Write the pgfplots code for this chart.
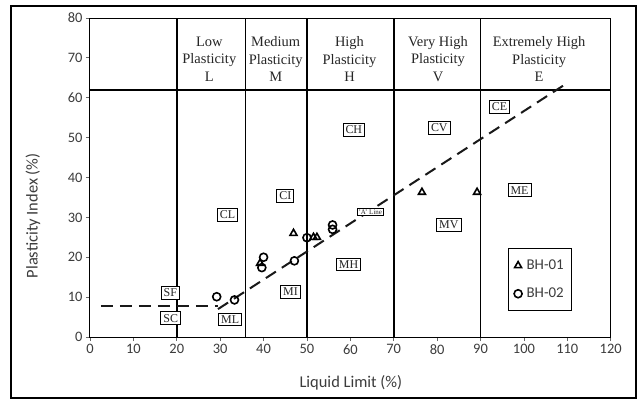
\documentclass[border=0pt]{standalone}
\usepackage{pgfplots}
\pgfplotsset{compat=1.18}
\usepackage{fontspec}
\setmainfont{Liberation Serif}
\newfontfamily\carlito{Carlito}
\definecolor{txtgray}{RGB}{60,60,60}
\begin{document}
\begin{tikzpicture}
\useasboundingbox (-90bp,-64bp) rectangle (550bp,337bp);
\fill[white] (-90bp,-64bp) rectangle (550bp,337bp);
\draw[line width=2bp] (-79bp,-61bp) rectangle (546bp,331bp);
\begin{axis}[
  at={(0,0)}, anchor=south west,
  scale only axis, width=520.7bp, height=319bp,
  xmin=0, xmax=120, ymin=0, ymax=80,
  xtick={0,10,...,120}, ytick={0,10,...,80},
  tick align=outside, xtick pos=bottom, ytick pos=left,
  major tick length=4bp,
  tick style={black!60, line width=0.8bp},
  axis line style={black, line width=1bp},
  /pgf/number format/assume math mode=true,
  ticklabel style={font=\carlito\fontsize{14.5}{14.5}\selectfont, text=txtgray},
  xlabel={Liquid Limit (\%)},
  ylabel={Plasticity Index (\%)},
  xlabel style={at={(axis description cs:0.501,-0.144)}, anchor=center, font=\carlito\fontsize{16.5}{16.5}\selectfont, text=txtgray},
  ylabel style={at={(axis description cs:-0.1095,0.38)}, anchor=center, font=\carlito\fontsize{16.5}{16.5}\selectfont, text=txtgray},
  clip=false,
  legend style={at={(0.802,0.2775)}, anchor=north west, draw=black, line width=1bp,
    font=\carlito\fontsize{15}{15}\selectfont, text=txtgray, row sep=13bp, inner xsep=6bp, inner ysep=9bp},
  legend image post style={line width=0.8bp, mark size=4bp},
  legend cell align=left,
]
% classification grid
\addplot[black, line width=1.6bp, forget plot] coordinates {(20,0) (20,80)};
\addplot[black, line width=1.6bp, forget plot] coordinates {(35.8,0) (35.8,80)};
\addplot[black, line width=1.6bp, forget plot] coordinates {(50,0) (50,80)};
\addplot[black, line width=1.6bp, forget plot] coordinates {(70,0) (70,80)};
\addplot[black, line width=1.6bp, forget plot] coordinates {(90,0) (90,80)};
\addplot[black, line width=1.6bp, forget plot] coordinates {(0,62) (120,62)};
% A-line
\addplot[black!90, line width=2bp, dash pattern=on 12bp off 7bp, forget plot] coordinates {(2.5,7.8) (29.5,7.8)};
\addplot[black!90, line width=2bp, dash pattern=on 12bp off 7bp, forget plot] coordinates {(29.5,7) (109,63)};
% zone labels
\begin{scope}[font=\fontsize{14.5}{17.5}\selectfont, text=black!85]
\node[align=center] at (axis cs:27.5,69.7) {Low\\Plasticity\\L};
\node[align=center] at (axis cs:42.8,69.7) {Medium\\Plasticity\\M};
\node[align=center] at (axis cs:59.8,69.7) {High\\Plasticity\\H};
\node[align=center] at (axis cs:80.2,69.7) {Very High\\Plasticity\\V};
\node[align=center] at (axis cs:103.5,69.7) {Extremely High\\Plasticity\\E};
\end{scope}
% boxed labels
\begin{scope}[every node/.style={draw, line width=0.8bp, fill=white, inner sep=2.5bp, font=\fontsize{12}{12}\selectfont, text=black!85}]
\node at (axis cs:18.5,11.1) {SF};
\node at (axis cs:18.6,4.7) {SC};
\node at (axis cs:32.3,4.4) {ML};
\node at (axis cs:31.7,30.6) {CL};
\node at (axis cs:45,35.4) {CI};
\node at (axis cs:46.2,11.4) {MI};
\node at (axis cs:60.8,52) {CH};
\node at (axis cs:59.6,18.2) {MH};
\node at (axis cs:80.5,52.5) {CV};
\node at (axis cs:82.7,28.2) {MV};
\node at (axis cs:94.4,57.7) {CE};
\node at (axis cs:99,36.8) {ME};
\node[font=\fontsize{7}{7}\selectfont, inner sep=1.5bp] at (axis cs:64.6,31.4) {'A' Line};
\end{scope}
% data
\addplot[only marks, mark=triangle, mark size=4bp, mark options={black, line width=1.6bp}]
  coordinates {(39.2,18.5) (46.9,26) (51.5,25) (52.3,25) (76.5,36.3) (89.2,36.3)};
\addlegendentry{\,BH-01}
\addplot[only marks, mark=o, mark size=4bp, mark options={black, line width=1.6bp}]
  coordinates {(29.2,10.1) (33.3,9.3) (40,20) (39.6,17.4) (47.1,19.1) (50,24.9) (55.9,28.1) (55.9,27)};
\addlegendentry{\,BH-02}
\end{axis}
\end{tikzpicture}
\end{document}
